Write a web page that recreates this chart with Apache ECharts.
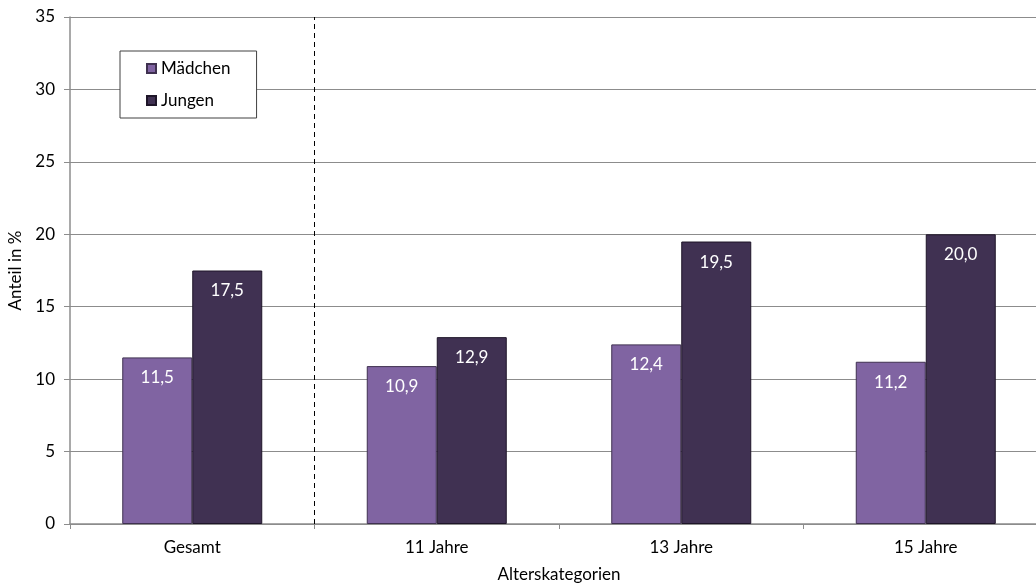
<!DOCTYPE html>
<html>
<head>
<meta charset="utf-8">
<script src="https://cdn.jsdelivr.net/npm/echarts@6/dist/echarts.min.js"></script>
<style>
  html, body { margin: 0; padding: 0; background: #fff; }
  #chart { width: 1036px; height: 588px; }
</style>
</head>
<body>
<div id="chart"></div>
<script>
// Age categories and shares (%) per group
const categories = ['Gesamt', '11 Jahre', '13 Jahre', '15 Jahre'];
const maedchen = [11.5, 10.9, 12.4, 11.2];
const jungen = [17.5, 12.9, 19.5, 20.0];
const yTicks = { min: 0, max: 35, interval: 5 };
// dashed separator drawn after the first category (the total)
const separatorAfter = 1;

const FONT = 'Lato, "Open Sans", sans-serif';
const FS = 17;
const GRID_COLOR = '#8c8c8c';

const fmt = p => p.value.toFixed(1).replace('.', ',');

const chart = echarts.init(document.getElementById('chart'));
chart.setOption({
  animation: false,
  backgroundColor: '#ffffff',
  textStyle: { fontFamily: FONT },
  // plot area runs slightly past the right edge of the canvas
  grid: { left: 70, width: 978, top: 17, bottom: 64, containLabel: false, outerBoundsMode: 'none' },
  legend: {
    orient: 'vertical',
    left: 120,
    top: 51,
    padding: [9, 26, 9, 26],
    itemGap: 15,
    itemWidth: 9,
    itemHeight: 9,
    backgroundColor: '#ffffff',
    borderColor: '#404040',
    borderWidth: 1,
    icon: 'rect',
    textStyle: { fontFamily: FONT, fontSize: FS, color: '#000' },
    data: ['Mädchen', 'Jungen']
  },
  xAxis: [
    {
      type: 'category',
      data: categories,
      name: 'Alterskategorien',
      nameLocation: 'middle',
      nameGap: 42,
      nameTextStyle: { fontFamily: FONT, fontSize: FS, color: '#000' },
      axisLine: { lineStyle: { color: GRID_COLOR, width: 1.5 } },
      axisTick: { show: true, length: 5, lineStyle: { color: GRID_COLOR } },
      axisLabel: { fontFamily: FONT, fontSize: FS, color: '#000', margin: 15 },
      splitLine: { show: false }
    },
    {
      // helper scale over category boundaries, used for the separator line
      type: 'value',
      min: 0,
      max: categories.length,
      show: false,
      splitLine: { show: false }
    }
  ],
  yAxis: {
    type: 'value',
    min: yTicks.min,
    max: yTicks.max,
    interval: yTicks.interval,
    name: 'Anteil in %',
    nameLocation: 'middle',
    nameGap: 44,
    nameRotate: 90,
    nameTextStyle: { fontFamily: FONT, fontSize: FS, color: '#000' },
    axisLine: { show: true, lineStyle: { color: GRID_COLOR, width: 1.5 } },
    axisTick: { show: true, length: 6, lineStyle: { color: GRID_COLOR } },
    axisLabel: { fontFamily: FONT, fontSize: FS, color: '#000', margin: 15 },
    splitLine: { lineStyle: { color: GRID_COLOR, width: 1.2 } }
  },
  series: [
    {
      name: 'Mädchen',
      type: 'bar',
      data: maedchen,
      barWidth: 70,
      barGap: '0%',
      itemStyle: { color: '#8064a2', borderColor: '#3f3150', borderWidth: 1 },
      label: {
        show: true, position: 'insideTop', distance: 12,
        color: '#fff', fontFamily: FONT, fontSize: FS, formatter: fmt
      }
    },
    {
      name: 'Jungen',
      type: 'bar',
      data: jungen,
      barWidth: 70,
      itemStyle: { color: '#403152', borderColor: '#1e1528', borderWidth: 1 },
      label: {
        show: true, position: 'insideTop', distance: 12,
        color: '#fff', fontFamily: FONT, fontSize: FS, formatter: fmt
      }
    },
    {
      name: 'separator',
      type: 'line',
      xAxisIndex: 1,
      data: [],
      silent: true,
      markLine: {
        silent: true,
        symbol: ['none', 'none'],
        label: { show: false },
        lineStyle: { color: '#000', type: [5, 4], width: 1 },
        data: [{ xAxis: separatorAfter }]
      }
    }
  ]
});
</script>
</body>
</html>
